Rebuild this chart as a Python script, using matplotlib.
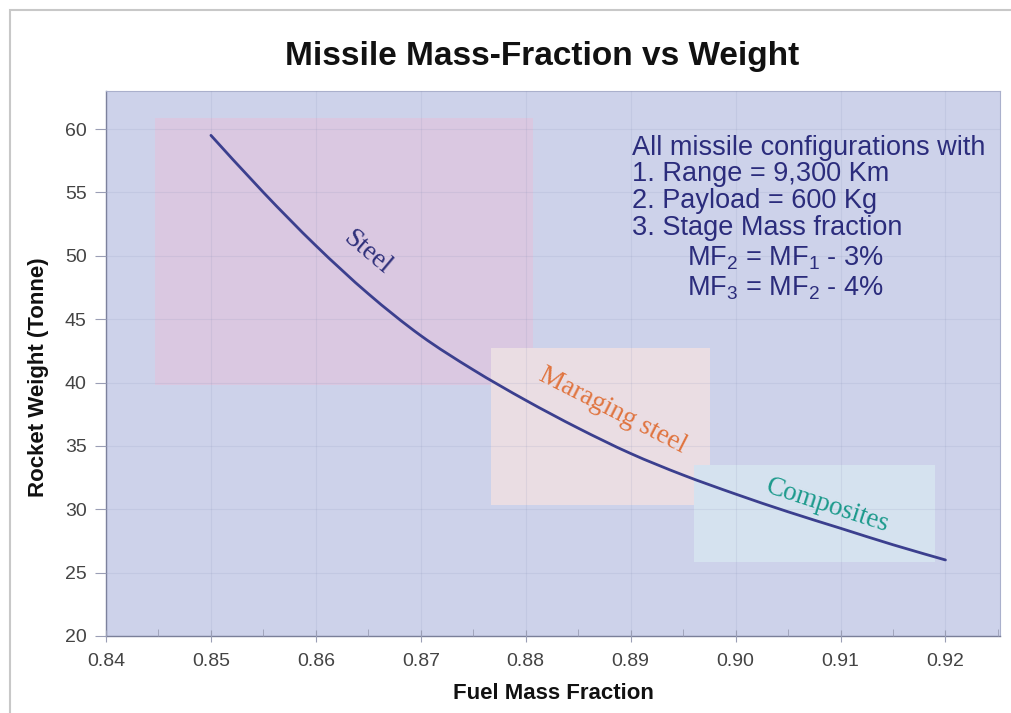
import matplotlib
matplotlib.use('Agg')
import matplotlib.pyplot as plt
from matplotlib.patches import Rectangle, PathPatch
from matplotlib.path import Path
from matplotlib.ticker import MultipleLocator

# values
fuel_frac = [0.850, 0.855, 0.860, 0.865, 0.870, 0.875, 0.880, 0.885,
             0.890, 0.895, 0.900, 0.905, 0.910, 0.915, 0.920]
weight = [59.5, 55.0, 50.8, 47.0, 43.7, 41.0, 38.6, 36.4,
          34.4, 32.7, 31.2, 29.8, 28.5, 27.2, 26.0]

# material bands: (x0, x1, y0, y1)
regions = ['Steel', 'Maraging steel', 'Composites']
region_x = [(0.8447, 0.8807), (0.8767, 0.8976), (0.8960, 0.9190)]
region_y = [(39.8, 60.9), (30.3, 42.7), (25.8, 33.5)]
region_fill = ['#dac8e1', '#eadde3', '#d5e2ef']

# material labels along the curve
label_x = [0.8649, 0.8883, 0.9088]
label_y = [50.3, 37.8, 30.3]
label_rot = [-40, -27, -18]
label_col = ['#2e2f7a', '#e0743f', '#1c9a8c']

note_lines = ['All missile configurations with',
              '1. Range = 9,300 Km',
              '2. Payload = 600 Kg',
              '3. Stage Mass fraction',
              'MF$_2$ = MF$_1$ - 3%',
              'MF$_3$ = MF$_2$ - 4%']

xticks = [0.84, 0.85, 0.86, 0.87, 0.88, 0.89, 0.90, 0.91, 0.92]
yticks = [20, 25, 30, 35, 40, 45, 50, 55, 60]

plt.rcParams['font.family'] = ['Liberation Sans', 'DejaVu Sans']
plt.rcParams['mathtext.default'] = 'regular'


def smooth_path(xs, ys):
    # Catmull-Rom through the read points, drawn as cubic Bezier segments
    verts = [(xs[0], ys[0])]
    codes = [Path.MOVETO]
    n = len(xs)
    for i in range(n - 1):
        x0, y0 = (xs[i - 1], ys[i - 1]) if i > 0 else (xs[i], ys[i])
        x1, y1 = xs[i], ys[i]
        x2, y2 = xs[i + 1], ys[i + 1]
        x3, y3 = (xs[i + 2], ys[i + 2]) if i + 2 < n else (x2, y2)
        verts += [(x1 + (x2 - x0) / 6, y1 + (y2 - y0) / 6),
                  (x2 - (x3 - x1) / 6, y2 - (y3 - y1) / 6),
                  (x2, y2)]
        codes += [Path.CURVE4] * 3
    return Path(verts, codes)


fig = plt.figure(figsize=(10.11, 7.13), dpi=100)
# thin grey frame on the top and left of the picture
fig.patches.append(Rectangle((10 / 1011, -0.1), 1.2, 1 - 10 / 713 + 0.1,
                             transform=fig.transFigure, fill=False,
                             edgecolor='#c8c8c8', lw=1.5))

ax = fig.add_axes([106 / 1011, 1 - 636 / 713, 894 / 1011, 545 / 713])
ax.set_facecolor('#cdd2ea')

for (x0, x1), (y0, y1), c in zip(region_x, region_y, region_fill):
    ax.add_patch(Rectangle((x0, y0), x1 - x0, y1 - y0, facecolor=c,
                           edgecolor='none', zorder=1))

ax.set_xticks(xticks)
ax.set_yticks(yticks)
ax.xaxis.set_minor_locator(MultipleLocator(0.005))
ax.grid(True, which='major', color='#8890b8', alpha=0.15, lw=0.8, zorder=2)
ax.set_axisbelow(False)

ax.add_patch(PathPatch(smooth_path(fuel_frac, weight), fill=False,
                       edgecolor='#3b3f8e', lw=2.0, zorder=4,
                       capstyle='round'))

for name, x, y, r, c in zip(regions, label_x, label_y, label_rot, label_col):
    ax.text(x, y, name, rotation=r, color=c, fontsize=19.5,
            family=['Liberation Serif', 'DejaVu Serif'],
            ha='center', va='center', rotation_mode='anchor', zorder=5)

note_y = [0.8954, 0.8477, 0.798, 0.7486, 0.6936, 0.6385]
for i, (line, y) in enumerate(zip(note_lines, note_y)):
    x = 0.588 if i < 4 else 0.650
    ax.text(x, y, line, transform=ax.transAxes, color='#2b2c7c',
            fontsize=19.5, ha='left', va='center', zorder=5)

ax.set_xlim(0.84, 0.9252)
ax.set_ylim(20, 63)
ax.set_xticklabels(['%.2f' % t for t in xticks])

for s in ['top', 'right']:
    ax.spines[s].set_color('#aab0cc')
    ax.spines[s].set_linewidth(0.8)
for s in ['left', 'bottom']:
    ax.spines[s].set_color('#7a7f99')
    ax.spines[s].set_linewidth(1.0)

ax.tick_params(axis='x', which='major', direction='inout', length=9,
               color='#9a9eb5', labelcolor='#444444', labelsize=14, pad=8)
ax.tick_params(axis='x', which='minor', direction='in', length=5,
               color='#9a9eb5')
ax.tick_params(axis='y', which='major', direction='out', length=8,
               color='#9a9eb5', labelcolor='#444444', labelsize=14, pad=6)

ax.set_xlabel('Fuel Mass Fraction', fontsize=16, fontweight='bold',
              color='#111111', labelpad=9)
ax.set_ylabel('Rocket Weight (Tonne)', fontsize=16, fontweight='bold',
              color='#111111')
ax.yaxis.set_label_coords(-0.064, 0.475)

fig.text(542 / 1011, 1 - 57 / 713, 'Missile Mass-Fraction vs Weight',
         fontsize=24, fontweight='bold', ha='center', va='center',
         color='#111111')

fig.savefig('out.png', dpi=100)
